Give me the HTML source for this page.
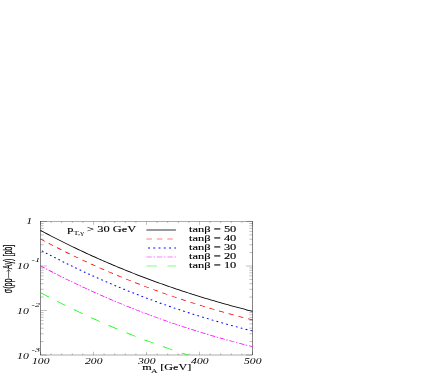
<!DOCTYPE html>
<html><head><meta charset="utf-8"><title>plot</title>
<style>html,body{margin:0;padding:0;background:#fff;}body{width:436px;height:376px;position:relative;overflow:hidden;font-family:"Liberation Serif",serif;}</style></head>
<body>
<svg width="436" height="376" viewBox="0 0 436 376" style="position:absolute;left:0;top:0;will-change:transform">
<rect width="436" height="376" fill="#fff"/>
<g transform="scale(1.5,1)" fill="none" font-family="Liberation Serif, serif">
<rect x="27.00" y="221.5" width="141.33" height="133.5" stroke="#333" stroke-width="0.4"/>
<path d="M27.00,355.0 v-3.3 M27.00,221.5 v3.3 M34.07,355.0 v-1.6 M34.07,221.5 v1.6 M41.13,355.0 v-1.6 M41.13,221.5 v1.6 M48.20,355.0 v-1.6 M48.20,221.5 v1.6 M55.27,355.0 v-1.6 M55.27,221.5 v1.6 M62.33,355.0 v-3.3 M62.33,221.5 v3.3 M69.40,355.0 v-1.6 M69.40,221.5 v1.6 M76.47,355.0 v-1.6 M76.47,221.5 v1.6 M83.53,355.0 v-1.6 M83.53,221.5 v1.6 M90.60,355.0 v-1.6 M90.60,221.5 v1.6 M97.67,355.0 v-3.3 M97.67,221.5 v3.3 M104.73,355.0 v-1.6 M104.73,221.5 v1.6 M111.80,355.0 v-1.6 M111.80,221.5 v1.6 M118.87,355.0 v-1.6 M118.87,221.5 v1.6 M125.93,355.0 v-1.6 M125.93,221.5 v1.6 M133.00,355.0 v-3.3 M133.00,221.5 v3.3 M140.07,355.0 v-1.6 M140.07,221.5 v1.6 M147.13,355.0 v-1.6 M147.13,221.5 v1.6 M154.20,355.0 v-1.6 M154.20,221.5 v1.6 M161.27,355.0 v-1.6 M161.27,221.5 v1.6 M168.33,355.0 v-3.3 M168.33,221.5 v3.3 M27.00,221.50 h4.27 M168.33,221.50 h-4.27 M27.00,266.00 h4.27 M168.33,266.00 h-4.27 M27.00,252.60 h2.13 M168.33,252.60 h-2.13 M27.00,244.77 h2.13 M168.33,244.77 h-2.13 M27.00,239.21 h2.13 M168.33,239.21 h-2.13 M27.00,234.90 h2.13 M168.33,234.90 h-2.13 M27.00,231.37 h2.13 M168.33,231.37 h-2.13 M27.00,228.39 h2.13 M168.33,228.39 h-2.13 M27.00,225.81 h2.13 M168.33,225.81 h-2.13 M27.00,223.54 h2.13 M168.33,223.54 h-2.13 M27.00,310.50 h4.27 M168.33,310.50 h-4.27 M27.00,297.10 h2.13 M168.33,297.10 h-2.13 M27.00,289.27 h2.13 M168.33,289.27 h-2.13 M27.00,283.71 h2.13 M168.33,283.71 h-2.13 M27.00,279.40 h2.13 M168.33,279.40 h-2.13 M27.00,275.87 h2.13 M168.33,275.87 h-2.13 M27.00,272.89 h2.13 M168.33,272.89 h-2.13 M27.00,270.31 h2.13 M168.33,270.31 h-2.13 M27.00,268.04 h2.13 M168.33,268.04 h-2.13 M27.00,355.00 h4.27 M168.33,355.00 h-4.27 M27.00,341.60 h2.13 M168.33,341.60 h-2.13 M27.00,333.77 h2.13 M168.33,333.77 h-2.13 M27.00,328.21 h2.13 M168.33,328.21 h-2.13 M27.00,323.90 h2.13 M168.33,323.90 h-2.13 M27.00,320.37 h2.13 M168.33,320.37 h-2.13 M27.00,317.39 h2.13 M168.33,317.39 h-2.13 M27.00,314.81 h2.13 M168.33,314.81 h-2.13 M27.00,312.54 h2.13 M168.33,312.54 h-2.13" stroke="#000" stroke-width="0.2"/>
<path d="M27.00,230.43 L28.33,231.50 L29.67,232.56 L31.00,233.61 L32.33,234.66 L33.67,235.70 L35.00,236.73 L36.33,237.75 L37.67,238.77 L39.00,239.79 L40.33,240.79 L41.67,241.79 L43.00,242.79 L44.33,243.78 L45.67,244.76 L47.00,245.73 L48.33,246.70 L49.67,247.66 L51.00,248.62 L52.33,249.57 L53.67,250.51 L55.00,251.45 L56.33,252.38 L57.67,253.31 L59.00,254.23 L60.33,255.14 L61.67,256.05 L63.00,256.95 L64.33,257.85 L65.67,258.74 L67.00,259.62 L68.33,260.50 L69.67,261.37 L71.00,262.24 L72.33,263.10 L73.67,263.95 L75.00,264.80 L76.33,265.65 L77.67,266.48 L79.00,267.32 L80.33,268.14 L81.67,268.96 L83.00,269.78 L84.33,270.59 L85.67,271.39 L87.00,272.19 L88.33,272.98 L89.67,273.77 L91.00,274.55 L92.33,275.32 L93.67,276.09 L95.00,276.86 L96.33,277.62 L97.67,278.37 L99.00,279.12 L100.33,279.87 L101.67,280.60 L103.00,281.34 L104.33,282.07 L105.67,282.79 L107.00,283.51 L108.33,284.22 L109.67,284.92 L111.00,285.63 L112.33,286.32 L113.67,287.01 L115.00,287.70 L116.33,288.38 L117.67,289.06 L119.00,289.73 L120.33,290.40 L121.67,291.06 L123.00,291.72 L124.33,292.37 L125.67,293.01 L127.00,293.66 L128.33,294.29 L129.67,294.93 L131.00,295.55 L132.33,296.18 L133.67,296.79 L135.00,297.41 L136.33,298.02 L137.67,298.62 L139.00,299.22 L140.33,299.82 L141.67,300.41 L143.00,300.99 L144.33,301.57 L145.67,302.15 L147.00,302.72 L148.33,303.29 L149.67,303.85 L151.00,304.41 L152.33,304.97 L153.67,305.52 L155.00,306.06 L156.33,306.60 L157.67,307.14 L159.00,307.67 L160.33,308.20 L161.67,308.72 L163.00,309.24 L164.33,309.76 L165.67,310.27 L167.00,310.78 L168.33,311.28" stroke="#000" stroke-width="0.8"/>
<path d="M27.00,239.03 L28.33,240.10 L29.67,241.16 L31.00,242.21 L32.33,243.26 L33.67,244.30 L35.00,245.33 L36.33,246.35 L37.67,247.37 L39.00,248.39 L40.33,249.39 L41.67,250.39 L43.00,251.39 L44.33,252.38 L45.67,253.36 L47.00,254.33 L48.33,255.30 L49.67,256.26 L51.00,257.22 L52.33,258.17 L53.67,259.11 L55.00,260.05 L56.33,260.98 L57.67,261.91 L59.00,262.83 L60.33,263.74 L61.67,264.65 L63.00,265.55 L64.33,266.45 L65.67,267.34 L67.00,268.22 L68.33,269.10 L69.67,269.97 L71.00,270.84 L72.33,271.70 L73.67,272.55 L75.00,273.40 L76.33,274.25 L77.67,275.08 L79.00,275.92 L80.33,276.74 L81.67,277.56 L83.00,278.38 L84.33,279.19 L85.67,279.99 L87.00,280.79 L88.33,281.58 L89.67,282.37 L91.00,283.15 L92.33,283.92 L93.67,284.69 L95.00,285.46 L96.33,286.22 L97.67,286.97 L99.00,287.72 L100.33,288.47 L101.67,289.20 L103.00,289.94 L104.33,290.67 L105.67,291.39 L107.00,292.11 L108.33,292.82 L109.67,293.52 L111.00,294.23 L112.33,294.92 L113.67,295.61 L115.00,296.30 L116.33,296.98 L117.67,297.66 L119.00,298.33 L120.33,299.00 L121.67,299.66 L123.00,300.32 L124.33,300.97 L125.67,301.61 L127.00,302.26 L128.33,302.89 L129.67,303.53 L131.00,304.15 L132.33,304.78 L133.67,305.39 L135.00,306.01 L136.33,306.62 L137.67,307.22 L139.00,307.82 L140.33,308.42 L141.67,309.01 L143.00,309.59 L144.33,310.17 L145.67,310.75 L147.00,311.32 L148.33,311.89 L149.67,312.45 L151.00,313.01 L152.33,313.57 L153.67,314.12 L155.00,314.66 L156.33,315.20 L157.67,315.74 L159.00,316.27 L160.33,316.80 L161.67,317.32 L163.00,317.84 L164.33,318.36 L165.67,318.87 L167.00,319.38 L168.33,319.88" stroke="#f00" stroke-width="0.7" stroke-dasharray="3.67 3.3" stroke-dashoffset="0"/>
<path d="M27.00,250.13 L28.33,251.20 L29.67,252.26 L31.00,253.31 L32.33,254.36 L33.67,255.40 L35.00,256.43 L36.33,257.45 L37.67,258.47 L39.00,259.49 L40.33,260.49 L41.67,261.49 L43.00,262.49 L44.33,263.48 L45.67,264.46 L47.00,265.43 L48.33,266.40 L49.67,267.36 L51.00,268.32 L52.33,269.27 L53.67,270.21 L55.00,271.15 L56.33,272.08 L57.67,273.01 L59.00,273.93 L60.33,274.84 L61.67,275.75 L63.00,276.65 L64.33,277.55 L65.67,278.44 L67.00,279.32 L68.33,280.20 L69.67,281.07 L71.00,281.94 L72.33,282.80 L73.67,283.65 L75.00,284.50 L76.33,285.35 L77.67,286.18 L79.00,287.02 L80.33,287.84 L81.67,288.66 L83.00,289.48 L84.33,290.29 L85.67,291.09 L87.00,291.89 L88.33,292.68 L89.67,293.47 L91.00,294.25 L92.33,295.02 L93.67,295.79 L95.00,296.56 L96.33,297.32 L97.67,298.07 L99.00,298.82 L100.33,299.57 L101.67,300.30 L103.00,301.04 L104.33,301.77 L105.67,302.49 L107.00,303.21 L108.33,303.92 L109.67,304.62 L111.00,305.33 L112.33,306.02 L113.67,306.71 L115.00,307.40 L116.33,308.08 L117.67,308.76 L119.00,309.43 L120.33,310.10 L121.67,310.76 L123.00,311.42 L124.33,312.07 L125.67,312.71 L127.00,313.36 L128.33,313.99 L129.67,314.63 L131.00,315.25 L132.33,315.88 L133.67,316.49 L135.00,317.11 L136.33,317.72 L137.67,318.32 L139.00,318.92 L140.33,319.52 L141.67,320.11 L143.00,320.69 L144.33,321.27 L145.67,321.85 L147.00,322.42 L148.33,322.99 L149.67,323.55 L151.00,324.11 L152.33,324.67 L153.67,325.22 L155.00,325.76 L156.33,326.30 L157.67,326.84 L159.00,327.37 L160.33,327.90 L161.67,328.42 L163.00,328.94 L164.33,329.46 L165.67,329.97 L167.00,330.48 L168.33,330.98" stroke="#00f" stroke-width="0.95" stroke-dasharray="1.25 2.25" stroke-dashoffset="-1.12"/>
<path d="M27.00,265.83 L28.33,266.90 L29.67,267.96 L31.00,269.01 L32.33,270.06 L33.67,271.10 L35.00,272.13 L36.33,273.15 L37.67,274.17 L39.00,275.19 L40.33,276.19 L41.67,277.19 L43.00,278.19 L44.33,279.18 L45.67,280.16 L47.00,281.13 L48.33,282.10 L49.67,283.06 L51.00,284.02 L52.33,284.97 L53.67,285.91 L55.00,286.85 L56.33,287.78 L57.67,288.71 L59.00,289.63 L60.33,290.54 L61.67,291.45 L63.00,292.35 L64.33,293.25 L65.67,294.14 L67.00,295.02 L68.33,295.90 L69.67,296.77 L71.00,297.64 L72.33,298.50 L73.67,299.35 L75.00,300.20 L76.33,301.05 L77.67,301.88 L79.00,302.72 L80.33,303.54 L81.67,304.36 L83.00,305.18 L84.33,305.99 L85.67,306.79 L87.00,307.59 L88.33,308.38 L89.67,309.17 L91.00,309.95 L92.33,310.72 L93.67,311.49 L95.00,312.26 L96.33,313.02 L97.67,313.77 L99.00,314.52 L100.33,315.27 L101.67,316.00 L103.00,316.74 L104.33,317.47 L105.67,318.19 L107.00,318.91 L108.33,319.62 L109.67,320.32 L111.00,321.03 L112.33,321.72 L113.67,322.41 L115.00,323.10 L116.33,323.78 L117.67,324.46 L119.00,325.13 L120.33,325.80 L121.67,326.46 L123.00,327.12 L124.33,327.77 L125.67,328.41 L127.00,329.06 L128.33,329.69 L129.67,330.33 L131.00,330.95 L132.33,331.58 L133.67,332.19 L135.00,332.81 L136.33,333.42 L137.67,334.02 L139.00,334.62 L140.33,335.22 L141.67,335.81 L143.00,336.39 L144.33,336.97 L145.67,337.55 L147.00,338.12 L148.33,338.69 L149.67,339.25 L151.00,339.81 L152.33,340.37 L153.67,340.92 L155.00,341.46 L156.33,342.00 L157.67,342.54 L159.00,343.07 L160.33,343.60 L161.67,344.12 L163.00,344.64 L164.33,345.16 L165.67,345.67 L167.00,346.18 L168.33,346.68" stroke="#f0f" stroke-width="0.7" stroke-dasharray="3.67 1.0 1.05 1.28" stroke-dashoffset="0"/>
<path d="M27.00,292.63 L28.33,293.70 L29.67,294.76 L31.00,295.81 L32.33,296.86 L33.67,297.90 L35.00,298.93 L36.33,299.95 L37.67,300.97 L39.00,301.99 L40.33,302.99 L41.67,303.99 L43.00,304.99 L44.33,305.98 L45.67,306.96 L47.00,307.93 L48.33,308.90 L49.67,309.86 L51.00,310.82 L52.33,311.77 L53.67,312.71 L55.00,313.65 L56.33,314.58 L57.67,315.51 L59.00,316.43 L60.33,317.34 L61.67,318.25 L63.00,319.15 L64.33,320.05 L65.67,320.94 L67.00,321.82 L68.33,322.70 L69.67,323.57 L71.00,324.44 L72.33,325.30 L73.67,326.15 L75.00,327.00 L76.33,327.85 L77.67,328.68 L79.00,329.52 L80.33,330.34 L81.67,331.16 L83.00,331.98 L84.33,332.79 L85.67,333.59 L87.00,334.39 L88.33,335.18 L89.67,335.97 L91.00,336.75 L92.33,337.52 L93.67,338.29 L95.00,339.06 L96.33,339.82 L97.67,340.57 L99.00,341.32 L100.33,342.07 L101.67,342.80 L103.00,343.54 L104.33,344.27 L105.67,344.99 L107.00,345.71 L108.33,346.42 L109.67,347.12 L111.00,347.83 L112.33,348.52 L113.67,349.21 L115.00,349.90 L116.33,350.58 L117.67,351.26 L119.00,351.93 L120.33,352.60 L121.67,353.26 L123.00,353.92 L124.33,354.57 L125.22,355.00" stroke="#0f0" stroke-width="0.7" stroke-dasharray="7 7" stroke-dashoffset="0"/>
<path d="M97.60,230.0 H117.27" stroke="#000" stroke-width="0.8"/>
<path d="M97.60,239.0 H117.27" stroke="#f00" stroke-width="0.7" stroke-dasharray="3.67 3.3" stroke-dashoffset="0"/>
<path d="M97.60,248.0 H117.27" stroke="#00f" stroke-width="0.95" stroke-dasharray="1.25 2.25" stroke-dashoffset="-1.12"/>
<path d="M97.60,257.0 H117.27" stroke="#f0f" stroke-width="0.7" stroke-dasharray="3.67 1.0 1.05 1.28" stroke-dashoffset="0"/>
<path d="M97.60,266.0 H117.27" stroke="#0f0" stroke-width="0.7" stroke-dasharray="7 7" stroke-dashoffset="0"/>
<text x="126.07" y="232" font-size="8.3" text-anchor="start" fill="#000" stroke="#000" stroke-width="0.12" >tanβ = 50</text>
<text x="126.07" y="241" font-size="8.3" text-anchor="start" fill="#000" stroke="#000" stroke-width="0.12" >tanβ = 40</text>
<text x="126.07" y="250" font-size="8.3" text-anchor="start" fill="#000" stroke="#000" stroke-width="0.12" >tanβ = 30</text>
<text x="126.07" y="259" font-size="8.3" text-anchor="start" fill="#000" stroke="#000" stroke-width="0.12" >tanβ = 20</text>
<text x="126.07" y="268" font-size="8.3" text-anchor="start" fill="#000" stroke="#000" stroke-width="0.12" >tanβ = 10</text>
<text x="44.87" y="232" font-size="8.3" fill="#000" stroke="#000" stroke-width="0.12">p<tspan font-size="5.7" dy="2.6" stroke="none">T,γ</tspan><tspan dy="-2.6"> &gt; 30 GeV</tspan></text>
<text x="27.20" y="364" font-size="7.8" text-anchor="middle" fill="#000" font-style="italic" >100</text>
<text x="62.53" y="364" font-size="7.8" text-anchor="middle" fill="#000" font-style="italic" >200</text>
<text x="97.87" y="364" font-size="7.8" text-anchor="middle" fill="#000" font-style="italic" >300</text>
<text x="133.20" y="364" font-size="7.8" text-anchor="middle" fill="#000" font-style="italic" >400</text>
<text x="168.53" y="364" font-size="7.8" text-anchor="middle" fill="#000" font-style="italic" >500</text>
<text x="94.80" y="370" font-size="8.1" fill="#000" stroke="#000" stroke-width="0.12">m<tspan font-size="6" dy="3.3" dx="-0.4" stroke="none">A</tspan><tspan dy="-3.3" dx="-0.2"> [GeV]</tspan></text>
<text x="21.53" y="224" font-size="7.9" text-anchor="end" fill="#000" font-style="italic" >1</text>
<text x="19.27" y="269" font-size="7.9" text-anchor="end" fill="#000" font-style="italic" >10</text>
<text x="26.67" y="262" font-size="6.7" text-anchor="end" fill="#000" font-style="italic" >-1</text>
<text x="19.27" y="314" font-size="7.9" text-anchor="end" fill="#000" font-style="italic" >10</text>
<text x="26.67" y="307" font-size="6.7" text-anchor="end" fill="#000" font-style="italic" >-2</text>
<text x="19.27" y="359" font-size="7.9" text-anchor="end" fill="#000" font-style="italic" >10</text>
<text x="26.67" y="352" font-size="6.7" text-anchor="end" fill="#000" font-style="italic" >-3</text>
<g transform="translate(7.73,293.2) rotate(-90) scale(1,1.15)" font-family="Liberation Sans, sans-serif" font-size="7.15" fill="#000" stroke="#000" stroke-width="0.14"><text x="0" y="0">σ(pp</text><path d="M15.3,-1.75 H23.6 M21.6,-2.8 L23.6,-1.75 L21.6,-0.7" stroke="#000" stroke-width="0.45" fill="none"/><text x="23.9" y="0">Aγ) [pb]</text></g>
</g>
</svg>
</body></html>
